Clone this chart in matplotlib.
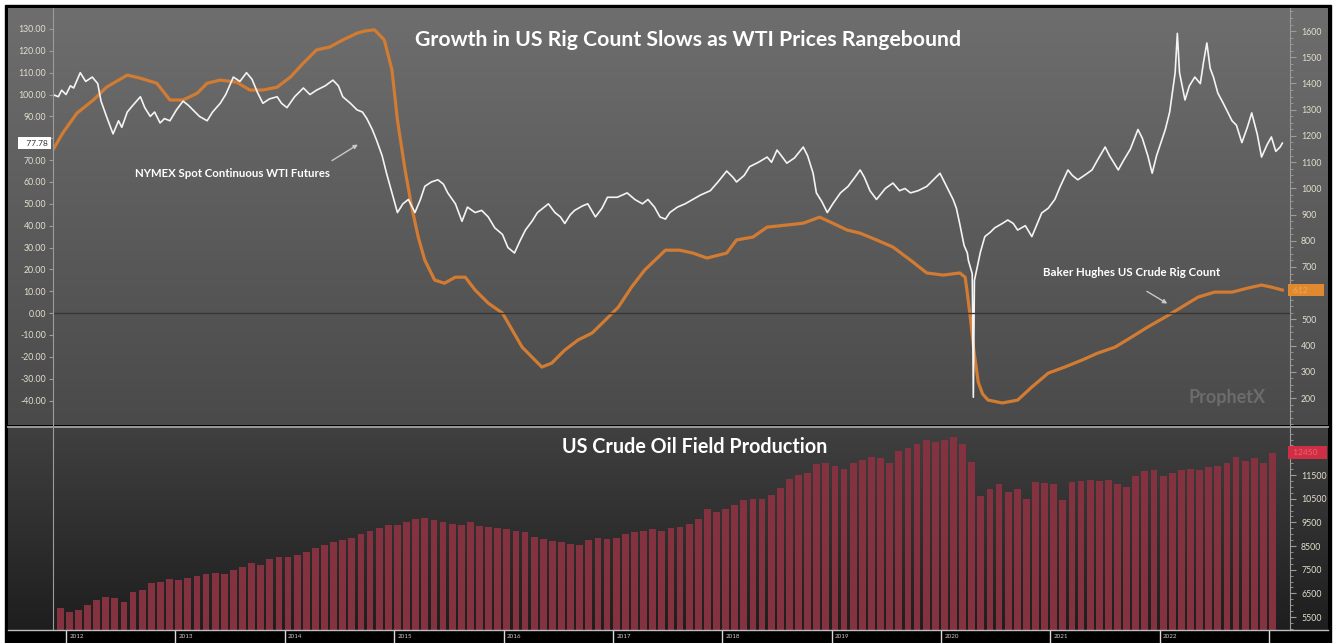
import numpy as np
import pandas as pd
import matplotlib
matplotlib.use("Agg")
import matplotlib.pyplot as plt
import matplotlib.transforms as mtransforms
from matplotlib.patches import Rectangle
from matplotlib.lines import Line2D
from matplotlib.ticker import MultipleLocator, FuncFormatter

# ---- data ----
wti_year = [2011.88, 2011.93, 2011.96, 2012.00, 2012.04, 2012.07, 2012.13, 2012.18, 2012.24, 2012.29,
            2012.32, 2012.37, 2012.40, 2012.43, 2012.48, 2012.51, 2012.56, 2012.61, 2012.68, 2012.72,
            2012.77, 2012.81, 2012.86, 2012.90, 2012.95, 2013.01, 2013.07, 2013.12, 2013.16, 2013.22,
            2013.29, 2013.34, 2013.41, 2013.46, 2013.53, 2013.59, 2013.65, 2013.70, 2013.75, 2013.80,
            2013.86, 2013.93, 2013.97, 2014.02, 2014.09, 2014.17, 2014.23, 2014.29, 2014.37, 2014.44,
            2014.49, 2014.53, 2014.60, 2014.66, 2014.71, 2014.75, 2014.80, 2014.84, 2014.89, 2014.93,
            2014.98, 2015.03, 2015.08, 2015.13, 2015.16, 2015.19, 2015.24, 2015.28, 2015.34, 2015.40,
            2015.45, 2015.49, 2015.56, 2015.62, 2015.67, 2015.74, 2015.80, 2015.86, 2015.92, 2015.99,
            2016.04, 2016.10, 2016.15, 2016.20, 2016.26, 2016.31, 2016.36, 2016.41, 2016.47, 2016.52,
            2016.56, 2016.61, 2016.65, 2016.72, 2016.77, 2016.84, 2016.90, 2016.95, 2017.04, 2017.13,
            2017.20, 2017.27, 2017.32, 2017.38, 2017.43, 2017.48, 2017.52, 2017.59, 2017.66, 2017.73,
            2017.80, 2017.89, 2017.96, 2018.04, 2018.10, 2018.13, 2018.20, 2018.25, 2018.33, 2018.41,
            2018.45, 2018.50, 2018.54, 2018.59, 2018.66, 2018.74, 2018.78, 2018.83, 2018.86, 2018.91,
            2018.96, 2019.01, 2019.08, 2019.15, 2019.21, 2019.26, 2019.30, 2019.35, 2019.41, 2019.49,
            2019.56, 2019.62, 2019.67, 2019.72, 2019.79, 2019.87, 2019.93, 2019.99, 2020.04, 2020.11,
            2020.14, 2020.17, 2020.21, 2020.24, 2020.25, 2020.285, 2020.295, 2020.305, 2020.33, 2020.36,
            2020.40, 2020.45, 2020.49, 2020.56, 2020.61, 2020.66, 2020.70, 2020.77, 2020.83, 2020.88,
            2020.92, 2020.98, 2021.04, 2021.09, 2021.16, 2021.20, 2021.25, 2021.31, 2021.38, 2021.43,
            2021.50, 2021.54, 2021.62, 2021.67, 2021.73, 2021.80, 2021.84, 2021.89, 2021.93, 2021.97,
            2022.05, 2022.09, 2022.14, 2022.16, 2022.18, 2022.23, 2022.27, 2022.32, 2022.37, 2022.40,
            2022.43, 2022.46, 2022.49, 2022.53, 2022.58, 2022.62, 2022.66, 2022.70, 2022.75, 2022.80,
            2022.84, 2022.89, 2022.93, 2022.98, 2023.02, 2023.06, 2023.10, 2023.12]
wti_price = [100, 99, 102, 100, 104, 103, 110, 106, 108, 105,
             97, 90, 86, 82, 88, 85, 92, 95, 99, 94,
             90, 92, 87, 89, 88, 93, 97, 95, 93, 90,
             88, 92, 96, 100, 108, 106, 110, 107, 101, 96,
             98, 99, 96, 94, 99, 103, 100, 102, 104, 106.6,
             104, 99, 96, 93, 92, 89, 84, 79, 72, 64,
             55, 46, 50, 52, 49, 46, 52, 58, 60, 61,
             59, 55, 50, 42, 48.5, 46, 47, 44, 39, 36,
             30, 27.5, 33, 38, 42, 46, 48, 50, 46, 44,
             41, 45, 47, 49, 50, 44, 48, 53, 53, 55,
             52, 50, 52, 48.5, 44, 43, 46, 48.5, 50, 52,
             54, 56, 60, 65, 62, 60, 63, 67, 69, 71.4,
             69, 74.6, 72, 68.6, 71, 76, 72, 64, 55, 51,
             46, 50, 55, 58, 62, 65.5, 62, 56, 52, 57,
             59.5, 56, 57, 55, 56, 58, 61, 64, 59, 52,
             48, 41, 31, 27.5, 24, 18, -38.5, 15, 21, 28,
             35, 37, 39, 41, 42.6, 41, 38, 40, 35, 41,
             45.8, 48, 52, 58, 65.5, 63, 61, 63, 65.5, 70,
             76, 72, 65.5, 70, 75, 84, 80, 72, 64, 72,
             84, 92, 110, 128, 110, 97.5, 104, 108, 105, 115,
             123.6, 112, 108, 100.7, 96, 92, 88, 86, 78, 85,
             91.6, 82, 71.4, 77, 80.6, 74, 76, 77.78]

rig_year = [2011.88, 2011.97, 2012.10, 2012.25, 2012.37, 2012.56, 2012.68, 2012.83, 2012.95, 2013.07,
            2013.20, 2013.29, 2013.41, 2013.56, 2013.68, 2013.80, 2013.93, 2014.05, 2014.17, 2014.29,
            2014.41, 2014.53, 2014.66, 2014.73, 2014.82, 2014.91, 2014.98, 2015.03, 2015.10, 2015.16,
            2015.22, 2015.28, 2015.37, 2015.46, 2015.56, 2015.65, 2015.74, 2015.86, 2015.99, 2016.08,
            2016.17, 2016.26, 2016.35, 2016.44, 2016.56, 2016.68, 2016.81, 2016.93, 2017.05, 2017.17,
            2017.29, 2017.48, 2017.61, 2017.73, 2017.86, 2018.04, 2018.13, 2018.28, 2018.41, 2018.59,
            2018.74, 2018.89, 2019.01, 2019.14, 2019.26, 2019.41, 2019.56, 2019.72, 2019.87, 2020.02,
            2020.17, 2020.22, 2020.24, 2020.27, 2020.30, 2020.34, 2020.38, 2020.43, 2020.56, 2020.70,
            2020.83, 2020.98, 2021.13, 2021.29, 2021.43, 2021.59, 2021.74, 2021.89, 2022.05, 2022.20,
            2022.35, 2022.50, 2022.66, 2022.80, 2022.93, 2023.02, 2023.12]
rig_count = [1146, 1211, 1287, 1337, 1386, 1432, 1420, 1401, 1337, 1337,
             1363, 1401, 1413, 1405, 1375, 1375, 1386, 1424, 1478, 1528,
             1539, 1566, 1592, 1600, 1605, 1566, 1451, 1260, 1070, 929,
             814, 726, 650, 638, 661, 661, 612, 562, 524, 459,
             394, 356, 318, 333, 383, 421, 448, 497, 547, 623,
             688, 764, 764, 753, 734, 753, 803, 814, 852, 860,
             867, 890, 867, 841, 829, 803, 776, 726, 677, 669,
             677, 661, 600, 497, 380, 260, 215, 192, 181, 192,
             242, 295, 318, 345, 371, 394, 432, 471, 509, 547,
             585, 604, 604, 619, 631, 623, 612]

# monthly US crude oil field production (thousand b/d), Dec 2011 .. Jan 2023
prod_start = "2011-12"
prod_kbd = [5900,
            5700, 5800, 6000, 6200, 6350, 6300, 6150, 6550, 6650, 6950, 7000, 7100,
            7050, 7150, 7250, 7300, 7350, 7300, 7500, 7600, 7800, 7700, 7950, 8050,
            8050, 8100, 8250, 8400, 8550, 8650, 8750, 8850, 9000, 9150, 9250, 9400,
            9400, 9500, 9650, 9700, 9600, 9500, 9450, 9400, 9500, 9350, 9300, 9250,
            9200, 9150, 9100, 8900, 8800, 8700, 8650, 8600, 8550, 8750, 8850, 8800,
            8850, 9000, 9100, 9150, 9200, 9150, 9250, 9300, 9450, 9650, 10050, 9950,
            10050, 10250, 10450, 10500, 10500, 10650, 10950, 11350, 11500, 11600, 11950, 12000,
            11900, 11750, 12000, 12150, 12250, 12200, 12000, 12500, 12650, 12800, 13000, 12900,
            13000, 13100, 12800, 12050, 10600, 10900, 11100, 10800, 10900, 10500, 11200, 11150,
            11100, 10450, 11200, 11250, 11300, 11250, 11300, 11100, 11000, 11450, 11650, 11700,
            11450, 11600, 11700, 11750, 11700, 11850, 11900, 12000, 12250, 12100, 12200, 12000,
            12450]

year_ticks = list(range(2012, 2024))
year_labels = [str(y) for y in range(2012, 2023)] + [""]

# ---- layout helpers (pixel -> figure fraction) ----
W, H = 1334, 643
def fx(px):
    return px / W
def fy(py):
    return 1 - py / H

plt.rcParams['font.family'] = ['Lato', 'DejaVu Sans']

fig = plt.figure(figsize=(W / 100, H / 100), dpi=100, facecolor='white')
fig.add_artist(Rectangle((fx(5), fy(643)), fx(1331) - fx(5), fy(5) - fy(643),
                         transform=fig.transFigure, color='black', zorder=0))


def gradient_panel(top, bottom, c_top, c_bot):
    ax = fig.add_axes([fx(8), fy(bottom), fx(1328) - fx(8), fy(top) - fy(bottom)])
    ax.set_axis_off()
    c0 = np.array(matplotlib.colors.to_rgb(c_top))
    c1 = np.array(matplotlib.colors.to_rgb(c_bot))
    g = np.linspace(0, 1, 256)[:, None, None]
    ax.imshow(c0 + (c1 - c0) * g, aspect='auto', extent=[0, 1, 0, 1])
    return ax

gradient_panel(8, 425, '#6e6e6e', '#4a4a4a')
gradient_panel(428, 630, '#404040', '#1e1e1e')

fig.add_artist(Line2D([fx(8), fx(1328)], [fy(426.5)] * 2, color='#a8a8a8', lw=1.3))
fig.add_artist(Line2D([fx(8), fx(1328)], [fy(630)] * 2, color='#bdbdbd', lw=1.0))

xlim = (2011.881, 2023.19)
label_col = '#e4dfcf'
spine_col = '#9c9c9c'

# ---- top panel ----
ax1 = fig.add_axes([fx(53), fy(425), fx(1290) - fx(53), fy(8) - fy(425)])
ax2 = ax1.twinx()
ax1.set_zorder(ax2.get_zorder() + 1)
ax1.patch.set_visible(False)
ax2.patch.set_visible(False)

ax2.plot(rig_year, rig_count, color='#d27b32', lw=2.3, solid_joinstyle='round')
ax1.plot(wti_year, wti_price, color='#f4f4f4', lw=1.2)
ax1.axhline(0, color='#363636', lw=1.0)

ax1.set_xlim(*xlim)
ax1.set_ylim(-51.2, 139.6)
ax2.set_ylim(97, 1688)

# the last-value flags sit over the 80.00 and 600 labels
ax1.set_yticks(np.arange(-40, 131, 10))
ax1.yaxis.set_major_formatter(FuncFormatter(lambda v, p: "" if round(v) == 80 else f"{v:.2f}"))
ax2.set_yticks(np.arange(200, 1601, 100))
ax2.yaxis.set_major_formatter(FuncFormatter(lambda v, p: "" if round(v) == 600 else f"{v:.0f}"))
ax2.yaxis.set_minor_locator(MultipleLocator(25))

for ax in (ax1, ax2):
    for s in ax.spines.values():
        s.set_visible(False)
    ax.tick_params(axis='x', bottom=False, labelbottom=False)
ax1.spines['left'].set_visible(True)
ax1.spines['left'].set_color(spine_col)
ax2.spines['right'].set_visible(True)
ax2.spines['right'].set_color(spine_col)
ax1.tick_params(axis='y', colors=spine_col, labelcolor=label_col, labelsize=6.3, length=3, pad=2)
ax2.tick_params(axis='y', which='major', colors=spine_col, labelcolor=label_col, labelsize=6.3, length=4, pad=4)
ax2.tick_params(axis='y', which='minor', colors=spine_col, length=2)

ax1.text(0.513, 0.923, "Growth in US Rig Count Slows as WTI Prices Rangebound",
         transform=ax1.transAxes, ha='center', va='center', color='white',
         fontsize=15.3, fontweight='bold')
ax1.text(0.98, 0.065, "ProphetX", transform=ax1.transAxes, ha='right', va='center',
         color='#6c6c6c', fontsize=13, fontweight='bold')

ax1.text(2012.63, 64.1, "NYMEX Spot Continuous WTI Futures", ha='left', va='center',
         color='white', fontsize=8.2, fontweight='bold')
ax1.annotate("", xy=(2014.69, 77.8), xytext=(2014.41, 69.1),
             arrowprops=dict(arrowstyle='-|>', color='#c8c8c8', lw=1, mutation_scale=6))
ax1.text(2020.93, 18.8, "Baker Hughes US Crude Rig Count", ha='left', va='center',
         color='white', fontsize=8.3, fontweight='bold')
ax1.annotate("", xy=(2022.09, 3.7), xytext=(2021.86, 10.6),
             arrowprops=dict(arrowstyle='-|>', color='#c8c8c8', lw=1, mutation_scale=6))

# last value flags
tl = mtransforms.blended_transform_factory(ax1.transAxes, ax1.transData)
ax1.text(-0.004, wti_price[-1], f"   {wti_price[-1]:.2f}", transform=tl, ha='right', va='center',
         fontsize=6, color='#333333', bbox=dict(boxstyle='square,pad=0.3', fc='white', ec='none'))
tr = mtransforms.blended_transform_factory(ax2.transAxes, ax2.transData)
ax2.text(1.001, rig_count[-1], f" {rig_count[-1]}      ", transform=tr, ha='left', va='center',
         fontsize=6, color='#f0a860', bbox=dict(boxstyle='square,pad=0.35', fc='#e0892e', ec='none'))

# ---- bottom panel ----
ax3 = fig.add_axes([fx(53), fy(630), fx(1290) - fx(53), fy(428) - fy(630)])
ax3.patch.set_visible(False)
months = pd.period_range(prod_start, periods=len(prod_kbd), freq="M")
prod_x = months.year + (months.month - 1) / 12 + 0.03
ax3.bar(prod_x, prod_kbd, width=0.062, color='#843240', edgecolor='none')
ax3.set_xlim(*xlim)
ax3.set_ylim(4951, 13486)

for s in ax3.spines.values():
    s.set_visible(False)
ax3.spines['left'].set_visible(True)
ax3.spines['left'].set_color(spine_col)
ax3.spines['right'].set_visible(True)
ax3.spines['right'].set_color(spine_col)
ax3.yaxis.tick_right()
ax3.set_yticks(np.arange(5500, 12000, 1000))
ax3.yaxis.set_minor_locator(MultipleLocator(250))
ax3.tick_params(axis='y', which='major', colors=spine_col, labelcolor=label_col, labelsize=6.3, length=4, pad=4)
ax3.tick_params(axis='y', which='minor', colors=spine_col, length=2)

ax3.set_xticks(year_ticks)
ax3.set_xticklabels([])
ax3.tick_params(axis='x', colors='#dddddd', length=10, width=1, direction='out')
tx = mtransforms.blended_transform_factory(ax3.transData, ax3.transAxes)
for yr, lab in zip(year_ticks, year_labels):
    ax3.text(yr + 0.03, -0.018, lab, transform=tx, ha='left', va='top', fontsize=4.5, color='#cfcfcf')

ax3.text(0.519, 0.906, "US Crude Oil Field Production", transform=ax3.transAxes,
         ha='center', va='center', color='white', fontsize=14.2, fontweight='bold')

tb = mtransforms.blended_transform_factory(ax3.transAxes, ax3.transData)
ax3.text(1.001, prod_kbd[-1], f" {prod_kbd[-1]}   ", transform=tb, ha='left', va='center',
         fontsize=6, color='#f06070', bbox=dict(boxstyle='square,pad=0.35', fc='#cf2f45', ec='none'))

fig.savefig("out.png", dpi=100, facecolor='white')
